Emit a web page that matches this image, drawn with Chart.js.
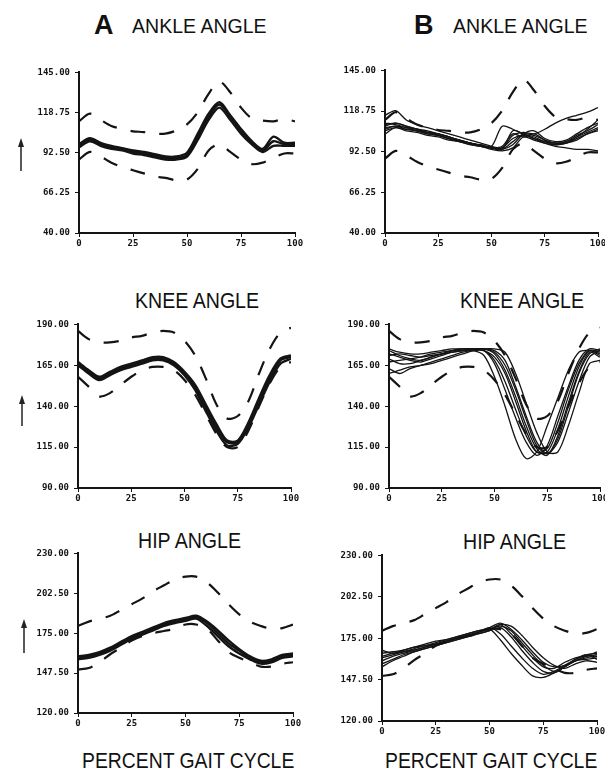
<!DOCTYPE html>
<html>
<head>
<meta charset="utf-8">
<title>Gait angles</title>
<script src="https://cdn.jsdelivr.net/npm/chart.js@4.4.0/dist/chart.umd.min.js"></script>
<style>
  body { margin: 0; background: #fff; width: 605px; height: 773px; position: relative; overflow: hidden;
         font-family: "Liberation Sans", Arial, sans-serif; color: #111; }
  canvas { position: absolute; }
  .t { position: absolute; white-space: nowrap; line-height: 1; transform-origin: left top; }
  .big { font-weight: bold; font-size: 27px; }
  svg.arrows { position: absolute; left: 0; top: 0; }
</style>
</head>
<body>

<div class="t big" style="left:94px;top:12px;">A</div>
<div class="t" style="left:132px;top:15px;font-size:21px;transform:scaleX(0.93);">ANKLE ANGLE</div>
<div class="t big" style="left:414px;top:12px;">B</div>
<div class="t" style="left:453px;top:15px;font-size:21px;transform:scaleX(0.93);">ANKLE ANGLE</div>

<div class="t" style="left:135px;top:290px;font-size:22px;transform:scaleX(0.89);">KNEE ANGLE</div>
<div class="t" style="left:460px;top:290px;font-size:22px;transform:scaleX(0.89);">KNEE ANGLE</div>

<div class="t" style="left:138px;top:530px;font-size:22px;transform:scaleX(0.89);">HIP ANGLE</div>
<div class="t" style="left:463px;top:531px;font-size:22px;transform:scaleX(0.89);">HIP ANGLE</div>

<div class="t" style="left:82px;top:750px;font-size:22px;transform:scaleX(0.88);">PERCENT GAIT CYCLE</div>
<div class="t" style="left:385px;top:750px;font-size:22px;transform:scaleX(0.88);">PERCENT GAIT CYCLE</div>

<svg class="arrows" width="605" height="773">
  <g stroke="#222" stroke-width="1.5" fill="#222">
    <line x1="21" y1="171" x2="21" y2="144"/>
    <polygon points="21,138 18,147 24,147" stroke="none"/>
    <line x1="22" y1="426" x2="22" y2="401"/>
    <polygon points="22,395 19,404 25,404" stroke="none"/>
    <line x1="24" y1="653" x2="24" y2="625"/>
    <polygon points="24,619 21,628 27,628" stroke="none"/>
  </g>
</svg>

<canvas id="ankleA"></canvas>
<canvas id="ankleB"></canvas>
<canvas id="kneeA"></canvas>
<canvas id="kneeB"></canvas>
<canvas id="hipA"></canvas>
<canvas id="hipB"></canvas>

<script>
// percent of gait cycle
const pct = [0, 5, 10, 15, 20, 25, 30, 35, 40, 45, 50, 55, 60, 65, 70, 75, 80, 85, 90, 95, 100];

// y axis ranges (min, max, step)
const ankleRange = [40, 145, 26.25];
const kneeRange = [90, 190, 25];
const hipRange = [120, 230, 27.5];

// normal band (dashed), shared by both columns
const ankleUpper = [113, 118, 114, 110, 108, 106.5, 106, 105, 105, 107, 111, 119, 131, 139, 132, 122, 115, 113.5, 113, 114.5, 113];
const ankleLower = [88, 93, 90, 86, 83, 81, 79, 77, 76, 74.5, 75, 82, 94, 98, 93, 88, 85, 86, 89, 92, 92];
const kneeUpper = [186, 181, 179, 179, 180, 182, 183, 185, 186, 185, 180, 171, 157, 141, 132.5, 134, 143, 160, 175, 185, 188];
const kneeLower = [158, 152, 146, 148, 153, 158, 162, 164, 164, 162, 156, 147, 135, 123, 115, 115, 125, 140, 154, 164, 167];
const hipUpper = [180, 183, 185, 187, 191, 195, 199, 204, 208, 212, 214, 214, 210, 203, 195, 188, 183, 180, 178, 178.5, 181];
const hipLower = [150, 151, 155, 160.5, 165, 170, 173, 175, 176.5, 178, 181, 181, 178, 170, 162, 158, 155, 152, 152, 154, 155];

// column A: repeated trials of one subject
const ankleA1 = [97, 101, 98, 96, 94.5, 93, 92, 90.5, 89, 89, 91, 103, 116, 124, 116, 107, 99, 94, 100, 98, 98];
const ankleA2 = [96, 100, 97, 95, 94, 92, 91, 89.5, 88, 88, 90, 101, 114, 122, 114, 105, 98, 93, 97, 97, 97];
const ankleA3 = [98, 102, 99, 97, 95.5, 94, 93, 91.5, 90, 90, 92.5, 105, 118, 125.5, 117, 108, 100, 95, 103, 99, 99];

const kneeA1 = [166, 161, 157, 160, 163, 165, 167, 169, 169, 166, 160, 151, 139, 127, 118, 118, 128, 143, 157, 168, 170];
const kneeA2 = [165, 160, 156, 159, 162, 164, 166, 168, 168, 165, 159, 150, 137, 125, 116, 117, 127, 141, 155, 166, 169];
const kneeA3 = [167, 162, 158, 161, 164, 166, 168, 170, 170, 167, 161, 153, 141, 129, 119, 119, 130, 145, 159, 169, 171];

const hipA1 = [158, 159, 161, 164, 168, 172, 175, 178, 181, 183, 184.5, 186, 182, 175, 168, 163, 158, 155, 156, 159, 160];
const hipA2 = [157, 158, 160, 163, 167, 171, 174, 177, 180, 182, 183.5, 185, 180, 173, 166, 161, 157, 154, 155, 158, 159];
const hipA3 = [159, 160, 162, 165, 169, 173, 176, 179, 182, 184, 185.5, 187, 183, 177, 170, 164, 159, 156, 157, 160, 161];

// column B: repeated trials, more spread
const ankleB1 = [116, 119, 113, 110, 108, 106, 104, 102, 100, 98, 96, 95, 103, 105, 104, 107, 111, 114, 116, 118, 121];
const ankleB2 = [110, 111, 109, 107, 106, 104, 102, 100, 98, 96.5, 95, 94, 99, 104, 103, 100, 98, 99, 103, 106, 110];
const ankleB3 = [108, 109, 108, 106, 105, 103, 101, 99, 97, 96, 95, 95, 101, 103, 101, 99, 97, 98, 101, 104, 107];
const ankleB4 = [106, 108, 107, 106, 104, 103, 101, 99, 98, 96.5, 95, 96, 104, 102, 104, 100, 98, 98, 102, 105, 108];
const ankleB5 = [107, 109, 107, 106, 104, 103, 101, 100, 98, 97, 96, 109, 107, 104, 102, 99, 98, 99, 102, 107, 113];
const ankleB6 = [109, 111, 109, 107, 105, 104, 102, 100, 98, 96, 95, 94, 106, 104, 101, 98, 96, 95, 94, 94, 93];
const ankleB7 = [104, 108, 106, 105, 103, 102, 100, 99, 97, 96, 94, 93, 95, 102, 100, 98, 97, 98, 100, 104, 106];
const ankleB8 = [111, 110, 108, 107, 105, 104, 102, 100, 98, 96.5, 95, 94, 97, 104, 106, 101, 99, 100, 104, 108, 111];

const kneeB1 = [167, 168, 169, 170, 172, 173, 174, 174, 174, 171, 158, 140, 120, 108, 112, 128, 145, 162, 173, 174, 172];
const kneeB2 = [172, 170, 168, 167, 169, 171, 173, 174, 175, 174, 166, 150, 133, 118, 110, 116, 134, 152, 168, 175, 174];
const kneeB3 = [160, 162, 164, 165, 167, 169, 171, 173, 174, 174, 168, 155, 138, 122, 112, 114, 130, 150, 166, 174, 171];
const kneeB4 = [175, 173, 172, 172, 173, 174, 175, 175, 175, 175, 172, 162, 146, 128, 114, 110, 122, 142, 161, 173, 170];
const kneeB5 = [169, 166, 166, 168, 170, 172, 174, 175, 175, 175, 174, 168, 152, 134, 118, 111, 118, 136, 155, 170, 174];
const kneeB6 = [163, 160, 163, 165, 166, 168, 170, 172, 174, 175, 175, 173, 160, 142, 124, 112, 112, 128, 148, 166, 168];
const kneeB7 = [171, 172, 171, 170, 171, 172, 173, 174, 175, 175, 173, 165, 150, 132, 116, 111, 120, 140, 160, 172, 175];
const kneeB8 = [174, 171, 169, 168, 170, 172, 174, 175, 175, 174, 170, 160, 143, 125, 112, 112, 126, 146, 164, 174, 173];

const hipB1 = [160, 163, 165, 167, 169, 171, 173, 175, 177, 179, 181, 174, 165, 157, 150, 149, 152, 156, 160, 162, 163];
const hipB2 = [163, 165, 166, 168, 170, 171, 173, 175, 177, 179, 182, 178, 170, 162, 155, 151, 153, 157, 161, 164, 165];
const hipB3 = [158, 161, 164, 166, 168, 170, 172, 174, 176, 178, 180, 184, 178, 170, 162, 156, 155, 159, 162, 163, 164];
const hipB4 = [165, 166, 167, 169, 170, 172, 174, 176, 178, 180, 182, 185, 181, 174, 166, 159, 156, 157, 160, 161, 162];
const hipB5 = [162, 164, 166, 167, 169, 171, 173, 175, 177, 179, 181, 184, 183, 177, 169, 162, 157, 155, 158, 160, 159];
const hipB6 = [167, 165, 167, 169, 171, 173, 174, 176, 178, 180, 181, 183, 180, 172, 164, 157, 153, 156, 160, 163, 166];
const hipB7 = [156, 160, 163, 166, 168, 170, 172, 174, 176, 178, 180, 182, 176, 167, 159, 153, 152, 156, 161, 164, 161];

// plot area boxes on the page
const boxes = {
    ankleA: { l: 79, t: 70, r: 295, b: 233 },
    ankleB: { l: 385, t: 68, r: 598, b: 233 },
    kneeA: { l: 78, t: 322, r: 291, b: 488 },
    kneeB: { l: 389, t: 322, r: 600, b: 488 },
    hipA: { l: 78, t: 551, r: 293, b: 713 },
    hipB: { l: 382, t: 553, r: 597, b: 721 }
};

const INK = '#141414';
const tickFont = { family: '"DejaVu Sans Mono", monospace', size: 9, weight: 'bold' };

function pts(vals) {
    return vals.map((v, i) => ({ x: pct[i], y: v }));
}

function panel(id, range, traces, traceWidth, upper, lower) {
    const box = boxes[id];
    const cv = document.getElementById(id);
    cv.width = box.r - box.l + 60;
    cv.height = box.b - box.t + 26;
    cv.style.left = (box.l - 50) + 'px';
    cv.style.top = (box.t - 8) + 'px';

    const sets = traces.map(t => ({
        data: pts(t), borderColor: INK, borderWidth: traceWidth, pointRadius: 0, tension: 0.3, fill: false
    }));
    [upper, lower].forEach(b => sets.push({
        data: pts(b), borderColor: INK, borderWidth: 2.2, borderDash: [15, 14], pointRadius: 0, tension: 0.3, fill: false
    }));

    new Chart(cv, {
        type: 'line',
        data: { datasets: sets },
        options: {
            responsive: false,
            animation: false,
            devicePixelRatio: 1,
            layout: { padding: { top: 8, right: 10, left: 0, bottom: 0 } },
            plugins: { legend: { display: false }, tooltip: { enabled: false } },
            scales: {
                x: {
                    type: 'linear', min: 0, max: 100,
                    ticks: { stepSize: 25, color: INK, font: tickFont, padding: 1, maxRotation: 0 },
                    grid: { drawOnChartArea: false, drawTicks: true, tickLength: 4, color: INK },
                    border: { display: true, color: INK, width: 2 },
                    afterFit: s => { s.height = 18; }
                },
                y: {
                    min: range[0], max: range[1],
                    ticks: { stepSize: range[2], color: INK, font: tickFont, padding: 5,
                             callback: v => Number(v).toFixed(2) },
                    grid: { drawOnChartArea: false, drawTicks: true, tickLength: 4, color: INK },
                    border: { display: true, color: INK, width: 2 },
                    afterFit: s => { s.width = 50; }
                }
            }
        }
    });
}

panel('ankleA', ankleRange, [ankleA1, ankleA2, ankleA3], 2.4, ankleUpper, ankleLower);
panel('ankleB', ankleRange, [ankleB1, ankleB2, ankleB3, ankleB4, ankleB5, ankleB6, ankleB7, ankleB8], 1.3, ankleUpper, ankleLower);
panel('kneeA', kneeRange, [kneeA1, kneeA2, kneeA3], 2.4, kneeUpper, kneeLower);
panel('kneeB', kneeRange, [kneeB1, kneeB2, kneeB3, kneeB4, kneeB5, kneeB6, kneeB7, kneeB8], 1.3, kneeUpper, kneeLower);
panel('hipA', hipRange, [hipA1, hipA2, hipA3], 2.4, hipUpper, hipLower);
panel('hipB', hipRange, [hipB1, hipB2, hipB3, hipB4, hipB5, hipB6, hipB7], 1.3, hipUpper, hipLower);
</script>
</body>
</html>
